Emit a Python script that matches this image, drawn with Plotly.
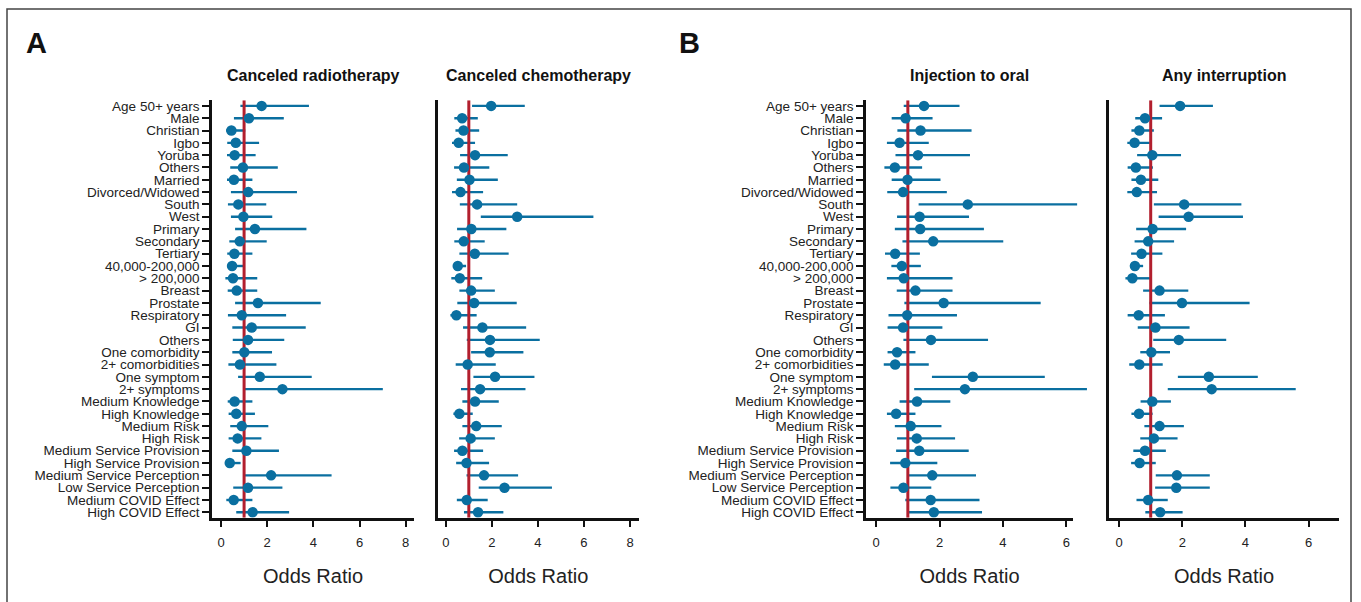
import plotly.graph_objects as go

labels = ["Age 50+ years", "Male", "Christian", "Igbo", "Yoruba", "Others", "Married",
          "Divorced/Widowed", "South", "West", "Primary", "Secondary", "Tertiary",
          "40,000-200,000", "> 200,000", "Breast", "Prostate", "Respiratory", "GI", "Others",
          "One comorbidity", "2+ comorbidities", "One symptom", "2+ symptoms",
          "Medium Knowledge", "High Knowledge", "Medium Risk", "High Risk",
          "Medium Service Provision", "High Service Provision", "Medium Service Perception",
          "Low Service Perception", "Medium COVID Effect", "High COVID Effect"]

# Canceled radiotherapy
radio_or = [1.76, 1.21, 0.45, 0.64, 0.59, 0.95, 0.56, 1.18, 0.75, 0.97, 1.47, 0.81, 0.58, 0.48,
            0.52, 0.68, 1.60, 0.90, 1.33, 1.17, 1.01, 0.82, 1.68, 2.66, 0.59, 0.66, 0.90, 0.72,
            1.10, 0.38, 2.17, 1.17, 0.55, 1.37]
radio_lo = [0.84, 0.56, 0.22, 0.27, 0.26, 0.40, 0.26, 0.43, 0.30, 0.43, 0.61, 0.36, 0.27, 0.26,
            0.19, 0.29, 0.61, 0.30, 0.49, 0.51, 0.49, 0.32, 0.74, 1.03, 0.29, 0.33, 0.40, 0.33,
            0.49, 0.23, 1.01, 0.53, 0.23, 0.66]
radio_hi = [3.81, 2.72, 1.05, 1.65, 1.50, 2.46, 1.36, 3.29, 1.96, 2.22, 3.70, 1.98, 1.36, 0.97,
            1.57, 1.57, 4.32, 2.82, 3.67, 2.74, 2.21, 2.40, 3.93, 7.01, 1.36, 1.47, 2.05, 1.75,
            2.51, 0.85, 4.79, 2.66, 1.36, 2.95]

# Canceled chemotherapy
chemo_or = [1.97, 0.71, 0.77, 0.56, 1.27, 0.79, 1.03, 0.64, 1.36, 3.10, 1.11, 0.78, 1.26, 0.52,
            0.61, 1.10, 1.23, 0.46, 1.59, 1.92, 1.91, 0.95, 2.14, 1.49, 1.27, 0.59, 1.32, 1.08,
            0.72, 0.90, 1.66, 2.55, 0.91, 1.40]
chemo_lo = [1.14, 0.37, 0.42, 0.27, 0.62, 0.36, 0.48, 0.27, 0.61, 1.52, 0.49, 0.37, 0.59, 0.35,
            0.24, 0.59, 0.50, 0.20, 0.75, 0.91, 1.10, 0.43, 1.20, 0.66, 0.72, 0.33, 0.72, 0.58,
            0.36, 0.45, 0.90, 1.43, 0.48, 0.79]
chemo_hi = [3.43, 1.39, 1.45, 1.27, 2.69, 1.89, 2.26, 1.62, 3.10, 6.41, 2.63, 1.69, 2.73, 0.88,
            1.58, 2.13, 3.08, 1.34, 3.49, 4.08, 3.37, 2.17, 3.85, 3.46, 2.30, 1.17, 2.43, 2.13,
            1.62, 1.88, 3.14, 4.61, 1.82, 2.50]

# Injection to oral
inj_or = [1.51, 0.93, 1.40, 0.74, 1.32, 0.59, 0.99, 0.85, 2.89, 1.37, 1.39, 1.80, 0.60, 0.81,
          0.87, 1.24, 2.13, 0.98, 0.85, 1.73, 0.66, 0.60, 3.05, 2.80, 1.29, 0.63, 1.09, 1.28,
          1.36, 0.92, 1.77, 0.86, 1.72, 1.82]
inj_lo = [0.87, 0.49, 0.67, 0.34, 0.61, 0.26, 0.49, 0.35, 1.34, 0.66, 0.59, 0.83, 0.28, 0.48,
          0.34, 0.65, 0.89, 0.39, 0.36, 0.86, 0.36, 0.24, 1.76, 1.20, 0.74, 0.34, 0.59, 0.66,
          0.63, 0.44, 1.02, 0.45, 0.92, 1.02]
inj_hi = [2.63, 1.78, 3.01, 1.66, 2.96, 1.45, 2.03, 2.23, 6.34, 2.93, 3.40, 4.01, 1.38, 1.41,
          2.41, 2.41, 5.19, 2.55, 2.09, 3.53, 1.24, 1.66, 5.32, 6.65, 2.34, 1.24, 2.06, 2.49,
          2.92, 1.93, 3.15, 1.74, 3.26, 3.34]

# Any interruption
any_or = [1.93, 0.82, 0.64, 0.49, 1.05, 0.53, 0.69, 0.56, 2.06, 2.20, 1.06, 0.92, 0.71, 0.50,
          0.42, 1.28, 1.99, 0.62, 1.15, 1.89, 1.02, 0.64, 2.84, 2.93, 1.05, 0.63, 1.28, 1.10,
          0.82, 0.65, 1.83, 1.81, 0.92, 1.30]
any_lo = [1.28, 0.51, 0.39, 0.26, 0.57, 0.27, 0.39, 0.26, 1.10, 1.25, 0.54, 0.49, 0.38, 0.39,
          0.20, 0.76, 0.96, 0.27, 0.59, 1.08, 0.67, 0.32, 1.86, 1.54, 0.68, 0.39, 0.80, 0.67,
          0.45, 0.38, 1.16, 1.14, 0.55, 0.83]
any_hi = [2.97, 1.36, 1.10, 0.97, 1.96, 1.07, 1.24, 1.20, 3.87, 3.92, 2.12, 1.74, 1.37, 0.76,
          1.01, 2.19, 4.13, 1.45, 2.23, 3.39, 1.61, 1.38, 4.39, 5.59, 1.64, 1.06, 2.05, 1.85,
          1.48, 1.16, 2.87, 2.87, 1.54, 2.01]

panel_titles = ["Canceled radiotherapy", "Canceled chemotherapy", "Injection to oral", "Any interruption"]
panel_letters = ["A", "B"]
ticks_A = [0, 2, 4, 6, 8]
ticks_B = [0, 2, 4, 6]
ref_or = 1

BLUE = "#0A6FA0"
RED = "#B21F2E"
W, H = 1361, 602
FONT = "Liberation Sans, Arial, sans-serif"

series = [(radio_or, radio_lo, radio_hi), (chemo_or, chemo_lo, chemo_hi),
          (inj_or, inj_lo, inj_hi), (any_or, any_lo, any_hi)]
xdomains = [(212, 414), (437.5, 639), (866, 1073), (1109, 1339)]
xranges = [(-0.39, 8.36), (-0.36, 8.39), (-0.32, 6.21), (-0.32, 6.96)]
# marks of each panel use a hidden x axis with the same scale that may run past the visible axis line
mark_extra_px = [0, 0, 20, 0]
xticks = [ticks_A, ticks_A, ticks_B, ticks_B]
ydom = (1 - 519.3 / H, 1 - 99 / H)
yrange = [33.45, -0.45]
rows = list(range(len(labels)))

fig = go.Figure()
for i, (orv, lo, hi) in enumerate(series):
    ax = "" if i == 0 else str(i + 1)
    mx = str(i + 5)
    d0, d1 = xdomains[i]
    r0, r1 = xranges[i]
    scale = (d1 - d0) / (r1 - r0)
    extra = mark_extra_px[i]

    fig.layout["xaxis" + ax] = dict(
        domain=[d0 / W, d1 / W], range=[r0, r1], anchor="y" + ax,
        tickvals=xticks[i], ticks="outside", ticklen=6, tickwidth=1.5, tickcolor="#111",
        ticklabelstandoff=5,
        showline=True, linecolor="#111", linewidth=2.5, showgrid=False, zeroline=False,
        tickfont=dict(family=FONT, size=13, color="#222"),
        title=dict(text="Odds Ratio", standoff=20,
                   font=dict(family="Liberation Sans Narrow, Arial Narrow, Liberation Sans, sans-serif",
                             size=20, color="#222")),
    )
    fig.layout["xaxis" + mx] = dict(
        domain=[d0 / W, (d1 + extra) / W], range=[r0, r1 + extra / scale], anchor="y" + ax,
        visible=False, showgrid=False, zeroline=False,
    )
    show_labels = i in (0, 2)
    fig.layout["yaxis" + ax] = dict(
        domain=list(ydom), range=yrange, anchor="x" + ax,
        tickvals=rows if show_labels else [], ticktext=labels if show_labels else [],
        ticks="outside" if show_labels else "", ticklen=7, tickwidth=1.5, tickcolor="#111",
        showline=True, linecolor="#111", linewidth=2.5, showgrid=False, zeroline=False,
        tickfont=dict(family=FONT, size=13.5, color="#222"),
    )

    # empty trace so that the visible axes of the panel are drawn
    fig.add_trace(go.Scatter(x=[], y=[], mode="markers", xaxis="x" + ax, yaxis="y" + ax,
                             showlegend=False, hoverinfo="skip"))
    # confidence intervals
    fig.add_trace(go.Scatter(
        x=orv, y=rows, mode="markers", marker=dict(size=1, opacity=0),
        error_x=dict(type="data", symmetric=False,
                     array=[h - o for h, o in zip(hi, orv)],
                     arrayminus=[o - l for o, l in zip(orv, lo)],
                     color=BLUE, thickness=2.4, width=0),
        xaxis="x" + mx, yaxis="y" + ax, showlegend=False, hoverinfo="skip",
    ))
    # reference line at OR = 1
    fig.add_trace(go.Scatter(
        x=[ref_or, ref_or], y=yrange, mode="lines", line=dict(color=RED, width=3),
        xaxis="x" + mx, yaxis="y" + ax, showlegend=False, hoverinfo="skip",
    ))
    # point estimates
    fig.add_trace(go.Scatter(
        x=orv, y=rows, mode="markers", marker=dict(color=BLUE, size=10.5, line=dict(width=0)),
        xaxis="x" + mx, yaxis="y" + ax, showlegend=False,
    ))

    fig.add_annotation(text="<b>" + panel_titles[i] + "</b>", xref="paper", yref="paper",
                       x=(d0 + d1) / 2 / W, y=1 - 74 / H, showarrow=False, xanchor="center",
                       yanchor="middle", font=dict(family=FONT, size=16, color="#111"))

for letter, px in zip(panel_letters, [36, 689]):
    fig.add_annotation(text="<b>" + letter + "</b>", xref="paper", yref="paper",
                       x=px / W, y=1 - 41 / H, showarrow=False, xanchor="center", yanchor="middle",
                       font=dict(family=FONT, size=29, color="#111"))

fig.add_shape(type="rect", xref="paper", yref="paper", x0=7 / W, x1=1351 / W, y0=-0.05, y1=1 - 7 / H,
              line=dict(color="#444", width=1.5), fillcolor="rgba(0,0,0,0)")

fig.update_layout(width=W, height=H, margin=dict(l=0, r=0, t=0, b=0),
                  paper_bgcolor="white", plot_bgcolor="rgba(0,0,0,0)")

fig.write_html("out.html", config={"displayModeBar": False},
               post_script="document.body.style.margin='0';document.body.style.overflow='hidden';")
